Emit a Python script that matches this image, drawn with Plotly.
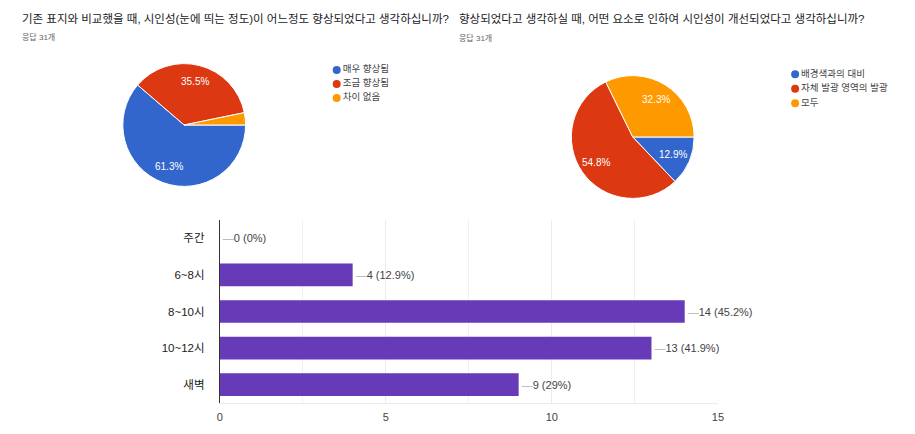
import math
import plotly.graph_objects as go

W, H = 915, 434

# ---- data ----
title1 = "기존 표지와 비교했을 때, 시인성(눈에 띄는 정도)이 어느정도 향상되었다고 생각하십니까?"
title2 = "향상되었다고 생각하실 때, 어떤 요소로 인하여 시인성이 개선되었다고 생각하십니까?"
resp_label = "응답 31개"

pie1_labels = ["매우 향상됨", "조금 향상됨", "차이 없음"]
pie1_values = [19, 11, 1]
pie1_text = ["61.3%", "35.5%", ""]

pie2_labels = ["배경색과의 대비", "자체 발광 영역의 발광", "모두"]
pie2_values = [4, 17, 10]
pie2_text = ["12.9%", "54.8%", "32.3%"]

bar_categories = ["주간", "6~8시", "8~10시", "10~12시", "새벽"]
bar_values = [0, 4, 14, 13, 9]
bar_pct = ["0%", "12.9%", "45.2%", "41.9%", "29%"]

colors = ["#3366cc", "#dc3912", "#ff9900"]
purple = "#673ab7"
FONT = "Liberation Sans, Arial, Noto Sans CJK KR, sans-serif"
START_DEG = 90


def px_x(p):
    return p / W


def px_y(p):
    return 1 - p / H


def pie_domain(cx, cy, r):
    return dict(x=[px_x(cx - r), px_x(cx + r)], y=[px_y(cy + r), px_y(cy - r)])


def label_positions(values, frac=0.72):
    total = sum(values)
    xs, ys, cum = [], [], 0
    for v in values:
        theta = math.radians(START_DEG + 360 * (cum + v / 2) / total)
        xs.append(frac * math.sin(theta))
        ys.append(frac * math.cos(theta))
        cum += v
    return xs, ys


dom1 = pie_domain(183, 125, 62)
dom2 = pie_domain(636, 137, 62)

fig = go.Figure()

# ---- pies ----
for vals, labels, dom in [(pie1_values, pie1_labels, dom1), (pie2_values, pie2_labels, dom2)]:
    fig.add_trace(go.Pie(
        labels=labels, values=vals, textinfo="none",
        sort=False, direction="clockwise", rotation=START_DEG,
        marker=dict(colors=colors, line=dict(color="white", width=1)),
        domain=dom, showlegend=False, hoverinfo="label+percent",
    ))

# ---- bar chart ----
bar_text = [f"<span style='color:#b0b0b0'>—</span>{v} ({p})" for v, p in zip(bar_values, bar_pct)]
fig.add_trace(go.Bar(
    x=bar_values, y=bar_categories, orientation="h",
    marker=dict(color=purple, line=dict(width=0)),
    text=bar_text, textposition="outside", cliponaxis=False, constraintext="none",
    textfont=dict(color="#444444", size=11, family=FONT),
    width=0.62, showlegend=False, hoverinfo="x+y",
))

# ---- custom legends (circle markers) ----
for labels, xa, ya in [(pie1_labels, "x2", "y2"), (pie2_labels, "x3", "y3")]:
    fig.add_trace(go.Scatter(
        x=[7] * len(labels), y=list(range(len(labels))), mode="markers+text",
        marker=dict(color=colors, size=8, symbol="circle"),
        text=labels, textposition="middle right",
        textfont=dict(color="#444444", size=9.5, family=FONT),
        xaxis=xa, yaxis=ya, showlegend=False, hoverinfo="skip",
    ))

hidden = dict(visible=False, fixedrange=True)

annotations = [
    dict(text=title1, x=px_x(17), y=px_y(18), xref="paper", yref="paper",
         xanchor="left", yanchor="middle", showarrow=False,
         font=dict(size=11.5, color="#202124", family=FONT)),
    dict(text=resp_label, x=px_x(17), y=px_y(37), xref="paper", yref="paper",
         xanchor="left", yanchor="middle", showarrow=False,
         font=dict(size=8, color="#5f6368", family=FONT)),
    dict(text=title2, x=px_x(459), y=px_y(18), xref="paper", yref="paper",
         xanchor="left", yanchor="middle", showarrow=False,
         font=dict(size=11.5, color="#202124", family=FONT)),
    dict(text=resp_label, x=px_x(459), y=px_y(38), xref="paper", yref="paper",
         xanchor="left", yanchor="middle", showarrow=False,
         font=dict(size=8, color="#5f6368", family=FONT)),
]

# pie slice labels placed along slice bisectors (drawn above the pies)
for vals, txt, xa, ya in [(pie1_values, pie1_text, "x4", "y4"), (pie2_values, pie2_text, "x5", "y5")]:
    lx, ly = label_positions(vals)
    for xv, yv, t in zip(lx, ly, txt):
        if t:
            annotations.append(dict(
                text=t, x=xv, y=yv, xref=xa, yref=ya, showarrow=False,
                xanchor="center", yanchor="middle",
                font=dict(color="white", size=10, family=FONT),
            ))

fig.update_layout(
    width=W, height=H,
    margin=dict(l=0, r=0, t=0, b=0),
    paper_bgcolor="white", plot_bgcolor="rgba(0,0,0,0)",
    font=dict(family=FONT, color="#444444"),
    xaxis=dict(
        domain=[px_x(219), px_x(722)], range=[0, 15], dtick=5,
        showgrid=True, gridcolor="#ebebeb", gridwidth=1,
        minor=dict(dtick=2.5, showgrid=True, gridcolor="#f0f0f0"),
        zeroline=False, showline=True, linecolor="#ebebeb",
        tickfont=dict(size=11, color="#444444", family=FONT),
        ticks="", ticklabelstandoff=4, fixedrange=True,
    ),
    yaxis=dict(
        domain=[px_y(403), px_y(220)], autorange="reversed",
        type="category", showgrid=False, zeroline=False,
        showline=True, linecolor="#333333", linewidth=1,
        tickfont=dict(size=11.5, color="#222222", family=FONT),
        ticks="outside", ticklen=12, tickcolor="rgba(0,0,0,0)", fixedrange=True,
    ),
    bargap=0.38,
    xaxis2=dict(domain=[px_x(330), px_x(460)], range=[0, 130], anchor="y2", **hidden),
    yaxis2=dict(domain=[px_y(105), px_y(63)], range=[2.5, -0.5], anchor="x2", **hidden),
    xaxis3=dict(domain=[px_x(793), px_x(915)], range=[0, 122], anchor="y3", **hidden),
    yaxis3=dict(domain=[px_y(110.5), px_y(67)], range=[2.5, -0.5], anchor="x3", **hidden),
    xaxis4=dict(domain=dom1["x"], range=[-1, 1], anchor="y4", **hidden),
    yaxis4=dict(domain=dom1["y"], range=[-1, 1], anchor="x4", **hidden),
    xaxis5=dict(domain=dom2["x"], range=[-1, 1], anchor="y5", **hidden),
    yaxis5=dict(domain=dom2["y"], range=[-1, 1], anchor="x5", **hidden),
    annotations=annotations,
)

fig.write_html(
    "out.html",
    config={"displayModeBar": False},
    post_script="document.body.style.margin='0';document.body.style.overflow='hidden';",
)
